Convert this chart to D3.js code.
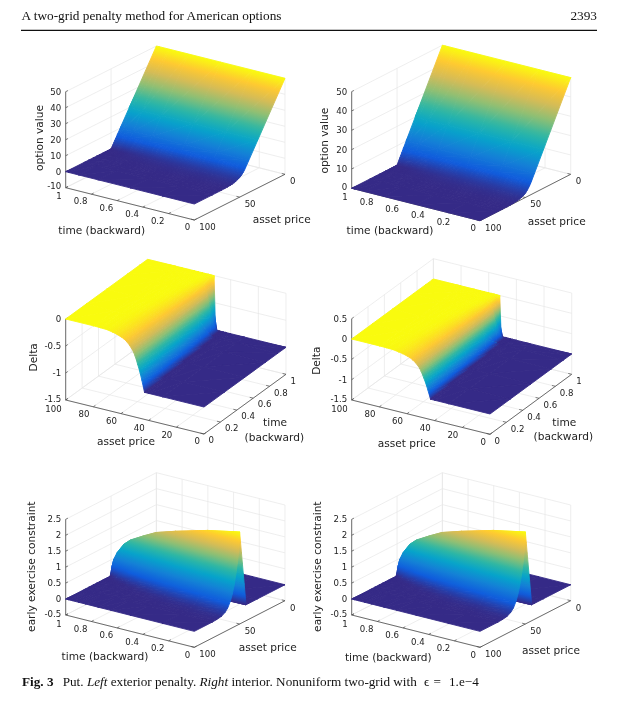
<!DOCTYPE html>
<html><head><meta charset="utf-8">
<script src="https://cdnjs.cloudflare.com/ajax/libs/d3/7.8.5/d3.min.js"></script>
<style>html,body{margin:0;background:#fff}svg{display:block;filter:blur(.3px)}</style></head>
<body><svg id="c" width="623" height="707"></svg>
<script>
const parulaColors = ['#352a87','#0f5cdd','#1481d6','#06a4ca','#2eb7a4','#87bf77','#d1bb59','#fec832','#f9fb0e'];
const assetGrid = [0,30,40,43,44,45,46,47,48,49,50,51,52,54,56,58,60,63,66,70,75,80,100];
const timeGrid = [0,0.25,0.5,0.75,0.9,0.98,1];
const constraintTimeGrid = [0,0.25,0.5,0.65,0.75,0.85,0.9,0.95,0.98,0.99,1];
const optionValues = [
 [50,20,10,7,6.05,5.2,4.45,3.8,3.2,2.7,2.25,1.9,1.6,1.1,.75,.5,.33,.16,.07,.02,.005,0,0],
 [50,20,10,7,6,5.06,4.25,3.55,2.96,2.46,2.05,1.72,1.44,1,.68,.47,.31,.15,.07,.02,.004,0,0],
 [50,20,10,7,6,5,4.07,3.29,2.66,2.15,1.74,1.42,1.17,.8,.55,.37,.24,.11,.04,.01,0,0,0],
 [50,20,10,7,6,5,4,3.03,2.25,1.66,1.22,.91,.69,.4,.24,.14,.07,.02,.005,0,0,0,0],
 [50,20,10,7,6,5,4,3,2,1.16,.62,.3,.11,.04,.01,0,0,0,0,0,0,0,0],
 [50,20,10,7,6,5,4,3,2,1,.45,.12,.03,.002,0,0,0,0,0,0,0,0,0],
 [50,20,10,7,6,5,4,3,2,1,0,0,0,0,0,0,0,0,0,0,0,0,0]
];
const deltaValues = [
 [-1,-1,-1,-1,-.89,-.78,-.68,-.59,-.51,-.43,-.36,-.30,-.26,-.19,-.14,-.10,-.08,-.05,-.03,-.01,-.004,0,0],
 [-1,-1,-1,-1,-1,-.87,-.75,-.64,-.54,-.45,-.365,-.30,-.25,-.18,-.12,-.09,-.065,-.038,-.018,-.006,-.001,0,0],
 [-1,-1,-1,-1,-1,-1,-.85,-.70,-.57,-.46,-.36,-.28,-.225,-.145,-.095,-.065,-.042,-.018,-.006,-.001,0,0,0],
 [-1,-1,-1,-1,-1,-1,-1,-.89,-.68,-.51,-.36,-.26,-.19,-.10,-.06,-.03,-.01,-.003,0,0,0,0,0],
 [-1,-1,-1,-1,-1,-1,-1,-1,-1,-.67,-.42,-.25,-.15,-.06,-.018,-.005,0,0,0,0,0,0,0],
 [-1,-1,-1,-1,-1,-1,-1,-1,-1,-1,-1,-.62,-.2,-.03,-.004,0,0,0,0,0,0,0,0],
 [-1,-1,-1,-1,-1,-1,-1,-1,-1,-1,-1,-1,0,0,0,0,0,0,0,0,0,0,0]
];
const constraintValues = [
 [0,0,0,0,.34,.68,1.02,1.36,1.70,2.04,2.385,1.85,1.55,1.15,.82,.57,.38,.2,.1,.035,.01,0,0],
 [0,0,0,0,0,.36,.73,1.09,1.45,1.82,2.18,1.64,1.35,.95,.63,.40,.25,.11,.044,.015,.001,0,0],
 [0,0,0,0,0,0,.38,.76,1.14,1.52,1.9,1.37,1.10,.69,.41,.24,.125,.046,.017,.002,0,0,0],
 [0,0,0,0,0,0,0,.43,.86,1.28,1.71,1.15,.88,.47,.23,.108,.046,.012,.002,0,0,0,0],
 [0,0,0,0,0,0,0,.21,.64,1.07,1.5,.95,.68,.30,.12,.045,.015,.002,0,0,0,0,0],
 [0,0,0,0,0,0,0,0,.25,.76,1.27,.70,.42,.12,.032,.005,0,0,0,0,0,0,0],
 [0,0,0,0,0,0,0,0,0,.54,1.09,.51,.25,.04,.004,0,0,0,0,0,0,0,0],
 [0,0,0,0,0,0,0,0,0,0,.79,.245,.063,.002,0,0,0,0,0,0,0,0,0],
 [0,0,0,0,0,0,0,0,0,0,.52,.05,.002,0,0,0,0,0,0,0,0,0,0],
 [0,0,0,0,0,0,0,0,0,0,.33,.01,0,0,0,0,0,0,0,0,0,0,0],
 [0,0,0,0,0,0,0,0,0,0,0,0,0,0,0,0,0,0,0,0,0,0,0]
];
const timeTicks = [0,0.2,0.4,0.6,0.8,1];
const assetTicksCoarse = [0,50,100];
const assetTicksFine = [0,20,40,60,80,100];
const optionTicksLeft = [-10,0,10,20,30,40,50];
const optionTicksRight = [0,10,20,30,40,50];
const deltaTicksLeft = [-1.5,-1,-0.5,0];
const deltaTicksRight = [-1.5,-1,-0.5,0,0.5];
const constraintTicks = [-0.5,0,0.5,1,1.5,2,2.5];
const axisTitles = {value:'option value',delta:'Delta',constraint:'early exercise constraint',time:'time (backward)',asset:'asset price'};

const panels = [
 {front:[194.3,220],left:[65.7,187.7],right:[285,174.3],sFront:100,zDom:[-10,50],zPx:96,zTicks:optionTicksLeft,aTicks:assetTicksCoarse,
  times:timeGrid,vals:optionValues,cDom:[0,50],zLabel:['value',39,138],tLabel:[101.7,230.7],aLabel:[281.7,219]},
 {front:[480,220.7],left:[351.7,188.3],right:[570.7,174.3],sFront:100,zDom:[0,50],zPx:96.7,zTicks:optionTicksRight,aTicks:assetTicksCoarse,
  times:timeGrid,vals:optionValues,cDom:[0,50],zLabel:['value',324,140.7],tLabel:[390,230.7],aLabel:[556.7,221.7]},
 {front:[204,434],left:[65.7,400],right:[286,374.3],sFront:0,zDom:[-1.5,0],zPx:81,zTicks:deltaTicksLeft,aTicks:assetTicksFine,
  times:timeGrid,vals:deltaValues,cDom:[-1,0],zLabel:['delta',33.3,357.3],tLabel2:[[275,422.7],[274.3,437.3]],aLabel:[126,441.3]},
 {front:[490,434.3],left:[351.7,400],right:[571.7,374.3],sFront:0,zDom:[-1.5,0.5],zPx:81.3,zTicks:deltaTicksRight,aTicks:assetTicksFine,
  times:timeGrid,vals:deltaValues,cDom:[-1,0],zLabel:['delta',316,360.7],tLabel2:[[564.3,422.7],[563.3,436]],aLabel:[406.7,443.7]},
 {front:[194.3,647.3],left:[65.7,615],right:[285,600.7],sFront:100,zDom:[-0.5,2.5],zPx:95.7,zTicks:constraintTicks,aTicks:assetTicksCoarse,
  times:constraintTimeGrid,vals:constraintValues,cDom:[0,2.385],zLabel:['constraint',31,566.7],tLabel:[105,656.7],aLabel:[267.7,647.7]},
 {front:[480,647.3],left:[351.7,615],right:[570.7,600.7],sFront:100,zDom:[-0.5,2.5],zPx:95.7,zTicks:constraintTicks,aTicks:assetTicksCoarse,
  times:constraintTimeGrid,vals:constraintValues,cDom:[0,2.385],zLabel:['constraint',317.3,566.7],tLabel:[388.3,657.7],aLabel:[551,650]}
];

const svg = d3.select('#c');
const defs = svg.append('defs');
const SANS = 'DejaVu Sans', SERIF = 'Liberation Serif';
const GRID = '#e6e6e6', AXIS = '#4a4a4a', TXT = '#222';
let gid = 0;

function drawPanel(p){
  const g = svg.append('g');
  const sFar = 100 - p.sFront;
  const sEnd = p.sFront===100 ? p.right : p.left;
  const tEnd = p.sFront===100 ? p.left : p.right;
  const xS = d3.scaleLinear().domain([p.sFront,sFar]).range([0,sEnd[0]-p.front[0]]);
  const yS = d3.scaleLinear().domain([p.sFront,sFar]).range([0,sEnd[1]-p.front[1]]);
  const xT = d3.scaleLinear().domain([0,1]).range([0,tEnd[0]-p.front[0]]);
  const yT = d3.scaleLinear().domain([0,1]).range([0,tEnd[1]-p.front[1]]);
  const yZ = d3.scaleLinear().domain(p.zDom).range([0,-p.zPx]);
  const pr = (s,t,z)=>[p.front[0]+xS(s)+xT(t), p.front[1]+yS(s)+yT(t)+yZ(z)];
  const color = d3.scaleLinear().domain(d3.range(9).map(i=>p.cDom[0]+(p.cDom[1]-p.cDom[0])*i/8)).range(parulaColors).clamp(true);
  const line = (a,b,col,w)=>g.append('line').attr('x1',a[0]).attr('y1',a[1]).attr('x2',b[0]).attr('y2',b[1]).attr('stroke',col).attr('stroke-width',w);
  const [z0,z1] = p.zDom;

  // back walls and floor grid
  p.aTicks.forEach(s=>{
    line(pr(s,1,z0),pr(s,1,z1),GRID,.7);
    line(pr(s,0,z0),pr(s,1,z0),GRID,.7);
  });
  timeTicks.forEach(t=>{
    line(pr(sFar,t,z0),pr(sFar,t,z1),GRID,.7);
    line(pr(p.sFront,t,z0),pr(sFar,t,z0),GRID,.7);
  });
  p.zTicks.forEach(z=>{
    line(pr(p.sFront,1,z),pr(sFar,1,z),GRID,.7);
    line(pr(sFar,1,z),pr(sFar,0,z),GRID,.7);
  });

  // axes
  const lowLeft = p.sFront===100 ? pr(100,1,z0) : pr(100,0,z0);
  line(lowLeft,[lowLeft[0],lowLeft[1]-p.zPx],AXIS,.8);
  line(pr(p.sFront,0,z0),pr(p.sFront,1,z0),AXIS,.8);
  line(pr(p.sFront,0,z0),pr(sFar,0,z0),AXIS,.8);
  const text=(x,y,s,anchor,size,col)=>g.append('text').attr('x',x).attr('y',y).attr('text-anchor',anchor)
     .attr('font-family',SANS).attr('font-size',size).attr('fill',col||TXT).text(s);

  const tickText=(pt,dx,dy,s,anchor)=>text(pt[0]+dx,pt[1]+dy+3,s,anchor,8.6);
  timeTicks.forEach(t=>{
    const a=pr(p.sFront,t,z0), b=[a[0]+xS(sFar)*.025,a[1]+yS(sFar)*.025];
    line(a,b,AXIS,.7);
    if(p.sFront===100) tickText(a,-4,t===1?8.6:7.3,String(t),'end'); else tickText(a,4.5,6.3,String(t),'start');
  });
  p.aTicks.forEach(s=>{
    const a=pr(s,0,z0), b=[a[0]+xT(1)*.025,a[1]+yT(1)*.025];
    line(a,b,AXIS,.7);
    if(p.sFront===100) tickText(a,5,6.8,String(s),'start'); else tickText(a,-4,s===100?8.6:7.3,String(s),'end');
  });
  const wall = p.sFront===100 ? [xS(sFar),yS(sFar)] : [xT(1),yT(1)];
  p.zTicks.forEach((z,i)=>{
    const y=lowLeft[1]+yZ(z);
    line([lowLeft[0],y],[lowLeft[0]+wall[0]*.025,y+wall[1]*.025],AXIS,.7);
    text(lowLeft[0]-4.5,y+(i===0?1.6:3),String(z),'end',8.6);
  });

  // surface: back to front, each triangle filled with the colormap gradient of its own heights
  const rowsIdx = d3.range(p.times.length-1).reverse();
  const colsIdx = p.sFront===100 ? d3.range(assetGrid.length-1) : d3.range(assetGrid.length-1).reverse();
  const surf = g.append('g');
  const tri=(v)=>{
    const pts=v.map(o=>pr(o[0],o[1],o[2]));
    const path='M'+pts.map(q=>q[0].toFixed(2)+','+q[1].toFixed(2)).join('L')+'Z';
    const zs=v.map(o=>o[2]);
    const lo=d3.min(zs),hi=d3.max(zs);
    let fill;
    const det=(pts[1][0]-pts[0][0])*(pts[2][1]-pts[0][1])-(pts[2][0]-pts[0][0])*(pts[1][1]-pts[0][1]);
    if(hi-lo<1e-4*(p.cDom[1]-p.cDom[0])||Math.abs(det)<.02){
      fill=color((lo+hi)/2);
    } else {
      const d1=zs[1]-zs[0],d2=zs[2]-zs[0];
      const a=(d1*(pts[2][1]-pts[0][1])-d2*(pts[1][1]-pts[0][1]))/det;
      const b=(d2*(pts[1][0]-pts[0][0])-d1*(pts[2][0]-pts[0][0]))/det;
      const n=a*a+b*b;
      const im=zs.indexOf(lo);
      const x1=pts[im][0],y1=pts[im][1];
      const x2=x1+a*(hi-lo)/n,y2=y1+b*(hi-lo)/n;
      const id='g'+(gid++);
      const gr=defs.append('linearGradient').attr('id',id).attr('gradientUnits','userSpaceOnUse')
        .attr('x1',x1).attr('y1',y1).attr('x2',x2).attr('y2',y2);
      const steps=Math.max(1,Math.ceil((hi-lo)/(p.cDom[1]-p.cDom[0])*24));
      d3.range(steps+1).forEach(i=>gr.append('stop').attr('offset',i/steps).attr('stop-color',color(lo+(hi-lo)*i/steps)));
      fill='url(#'+id+')';
    }
    surf.append('path').attr('d',path).attr('fill',fill).attr('stroke',fill).attr('stroke-width',.9).attr('stroke-linejoin','round');
  };
  rowsIdx.forEach(j=>{
    colsIdx.forEach(i=>{
      const A=[assetGrid[i],p.times[j],p.vals[j][i]];
      const B=[assetGrid[i+1],p.times[j],p.vals[j][i+1]];
      const C=[assetGrid[i],p.times[j+1],p.vals[j+1][i]];
      const D=[assetGrid[i+1],p.times[j+1],p.vals[j+1][i+1]];
      if(p.sFront===100){ tri([C,D,A]); tri([D,A,B]); }
      else { tri([D,C,B]); tri([C,B,A]); }
    });
  });

  // titles
  const [zk,zx,zy]=p.zLabel;
  g.append('text').attr('transform',`translate(${zx},${zy}) rotate(-90)`).attr('text-anchor','middle').attr('dy','.35em')
    .attr('font-family',SANS).attr('font-size',10.6).attr('fill',TXT).text(axisTitles[zk]);
  const centered=(pos,s)=>text(pos[0],pos[1]+3.7,s,'middle',10.6);
  centered(p.aLabel,axisTitles.asset);
  if(p.tLabel) centered(p.tLabel,axisTitles.time);
  else { centered(p.tLabel2[0],'time'); centered(p.tLabel2[1],'(backward)'); }
}
panels.forEach(drawPanel);

// page furniture
svg.append('text').attr('x',21.5).attr('y',20).attr('font-family',SERIF).attr('font-size',13.3).attr('fill','#111').text('A two-grid penalty method for American options');
svg.append('text').attr('x',597).attr('y',20).attr('text-anchor','end').attr('font-family',SERIF).attr('font-size',13.3).attr('fill','#111').text('2393');
svg.append('line').attr('x1',21).attr('x2',597).attr('y1',30.3).attr('y2',30.3).attr('stroke','#111').attr('stroke-width',1.2);
const cap=svg.append('text').attr('y',685.5).attr('font-family',SERIF).attr('font-size',13.2).attr('fill','#111');
cap.append('tspan').attr('x',22).attr('font-weight','bold').text('Fig. 3');
cap.append('tspan').attr('x',62.7).text('Put. ');
cap.append('tspan').attr('font-style','italic').text('Left');
cap.append('tspan').text(' exterior penalty. ');
cap.append('tspan').attr('font-style','italic').text('Right');
cap.append('tspan').text(' interior. Nonuniform two-grid with');
cap.append('tspan').attr('x',424).text('ϵ');
cap.append('tspan').attr('x',433.5).text('=');
cap.append('tspan').attr('x',449).text('1.e−4');
</script></body></html>
